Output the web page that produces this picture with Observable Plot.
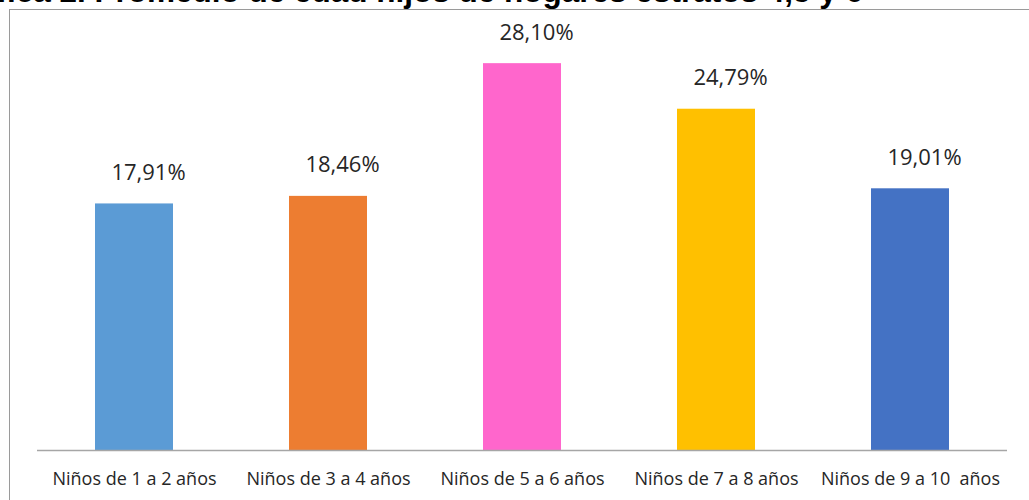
<!DOCTYPE html>
<html>
<head>
<meta charset="utf-8">
<script src="https://cdn.jsdelivr.net/npm/d3@7"></script>
<script src="https://cdn.jsdelivr.net/npm/@observablehq/plot@0.6"></script>
<style>
  html, body { margin: 0; padding: 0; background: #fff; overflow: hidden; }
  #wrap { position: relative; width: 1029px; height: 500px; overflow: hidden; }
  #title { position: absolute; right: 166px; top: -25px; white-space: nowrap;
    font-family: "Liberation Sans", Arial, sans-serif; font-weight: bold; font-size: 31.5px; line-height: 32px; color: #000; }
  #frame { position: absolute; left: 9px; top: 9px; width: 1100px; height: 600px; border: 1.5px solid #9a9a9a; box-sizing: border-box; background: #fff; }
  #chart { position: absolute; left: 0; top: 0; }
  svg text { white-space: pre; }
</style>
</head>
<body>
<div id="wrap">
  <div id="frame"></div>
  <div id="title">Gráfica 2. Promedio de edad hijos de hogares estratos 4,5 y 6</div>
  <div id="chart"></div>
</div>
<script>
const categories = ["Niños de 1 a 2 años", "Niños de 3 a 4 años", "Niños de 5 a 6 años", "Niños de 7 a 8 años", "Niños de 9 a 10  años"];
const values = [17.91, 18.46, 28.10, 24.79, 19.01];
const colors = ["#5B9BD5", "#ED7D31", "#FF66CC", "#FFC000", "#4472C4"];

const data = categories.map((c, i) => ({cat: c, value: values[i]}));
const fmt = v => v.toFixed(2).replace(".", ",") + "%";

const chart = Plot.plot({
  width: 1029,
  height: 500,
  marginTop: 37,
  marginBottom: 50,
  marginLeft: 37,
  marginRight: 22,
  style: {fontFamily: "'Open Sans', sans-serif", background: "transparent", color: "#262626"},
  x: {domain: categories, paddingInner: 0.6, paddingOuter: 0.3, axis: null},
  y: {domain: [0, 30], axis: null},
  color: {domain: categories, range: colors},
  marks: [
    Plot.barY(data, {x: "cat", y: "value", fill: "cat"}),
    Plot.ruleY([0], {stroke: "#a6a6a6", strokeWidth: 1.5}),
    Plot.text(data, {x: "cat", y: "value", text: d => fmt(d.value), dy: -24, dx: 14, lineAnchor: "bottom", fontSize: 22, fill: "#262626"}),
    Plot.axisX({domain: categories, tickSize: 0, tickPadding: 22, fontSize: 18, label: null, anchor: "bottom"})
  ]
});
document.getElementById("chart").appendChild(chart);
</script>
</body>
</html>
